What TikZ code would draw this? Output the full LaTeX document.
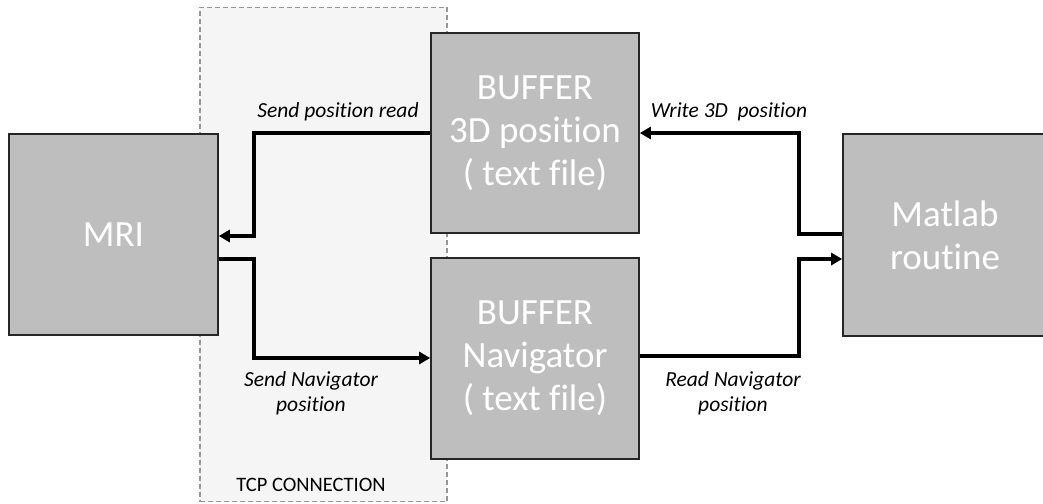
\documentclass[tikz,border=0pt]{standalone}
\usepackage{fontspec}
\setmainfont{Carlito}[Ligatures=NoCommon]
\usetikzlibrary{arrows.meta}
\definecolor{boxgray}{RGB}{190,190,190}
\definecolor{tcpfill}{RGB}{245,245,245}
\definecolor{dashgray}{RGB}{150,150,150}
\begin{document}
\begin{tikzpicture}[x=1pt,y=-1pt,
  blk/.style={draw=black!85,line width=1.6pt,fill=boxgray,text=white,align=center,
    font=\fontsize{37}{43}\selectfont,inner sep=0pt},
  conn/.style={line width=3.8pt,-{Triangle[length=11pt,width=12pt]}},
  lbl/.style={font=\fontsize{21.5}{25}\selectfont\itshape,align=center,inner sep=0pt}]
\useasboundingbox (0,0) rectangle (1043,503);
\node[draw=dashgray,dash pattern=on 5pt off 3pt,line width=1.2pt,fill=tcpfill,minimum width=247pt,minimum height=494pt,inner sep=0pt] (tcp) at (323.5,254.5) {};
\node[font=\fontsize{20.5}{24}\selectfont,inner sep=0pt] (tcplbl) at (311,485) {TCP CONNECTION};
\node[blk,minimum width=209pt,minimum height=201pt] (mri) at (113.5,234.5) {MRI};
\node[blk,minimum width=208pt,minimum height=200pt] (buf1) at (535,133) {BUFFER\\3D position\\( text file)};
\node[blk,minimum width=208pt,minimum height=201pt] (buf2) at (535,358.5) {BUFFER\\Navigator\\( text file)};
\node[blk,minimum width=204pt,minimum height=202pt] (mat) at (945,235) {Matlab\\routine};
\coordinate (c1) at (254,133);
\coordinate (c2) at (254,236);
\coordinate (c3) at (254,259);
\coordinate (c4) at (254,358);
\coordinate (c5) at (799,133);
\coordinate (c6) at (799,234);
\coordinate (c7) at (799,356);
\coordinate (c8) at (799,259);
\draw[conn] (buf1.west) -- (c1) -- (c2) -- (mri.east |- c2);
\draw[conn] (mri.east |- c3) -- (c3) -- (c4) -- (buf2.west |- c4);
\draw[conn] (mat.west |- c6) -- (c6) -- (c5) -- (buf1.east |- c5);
\draw[conn] (buf2.east |- c7) -- (c7) -- (c8) -- (mat.west |- c8);
\node[lbl] (l1) at (338,112) {Send position read};
\node[lbl] (l2) at (729,112) {Write 3D\ \ position};
\node[lbl] (l3) at (311,393) {Send Navigator\\position};
\node[lbl] (l4) at (733,393) {Read Navigator\\position};
\end{tikzpicture}
\end{document}
